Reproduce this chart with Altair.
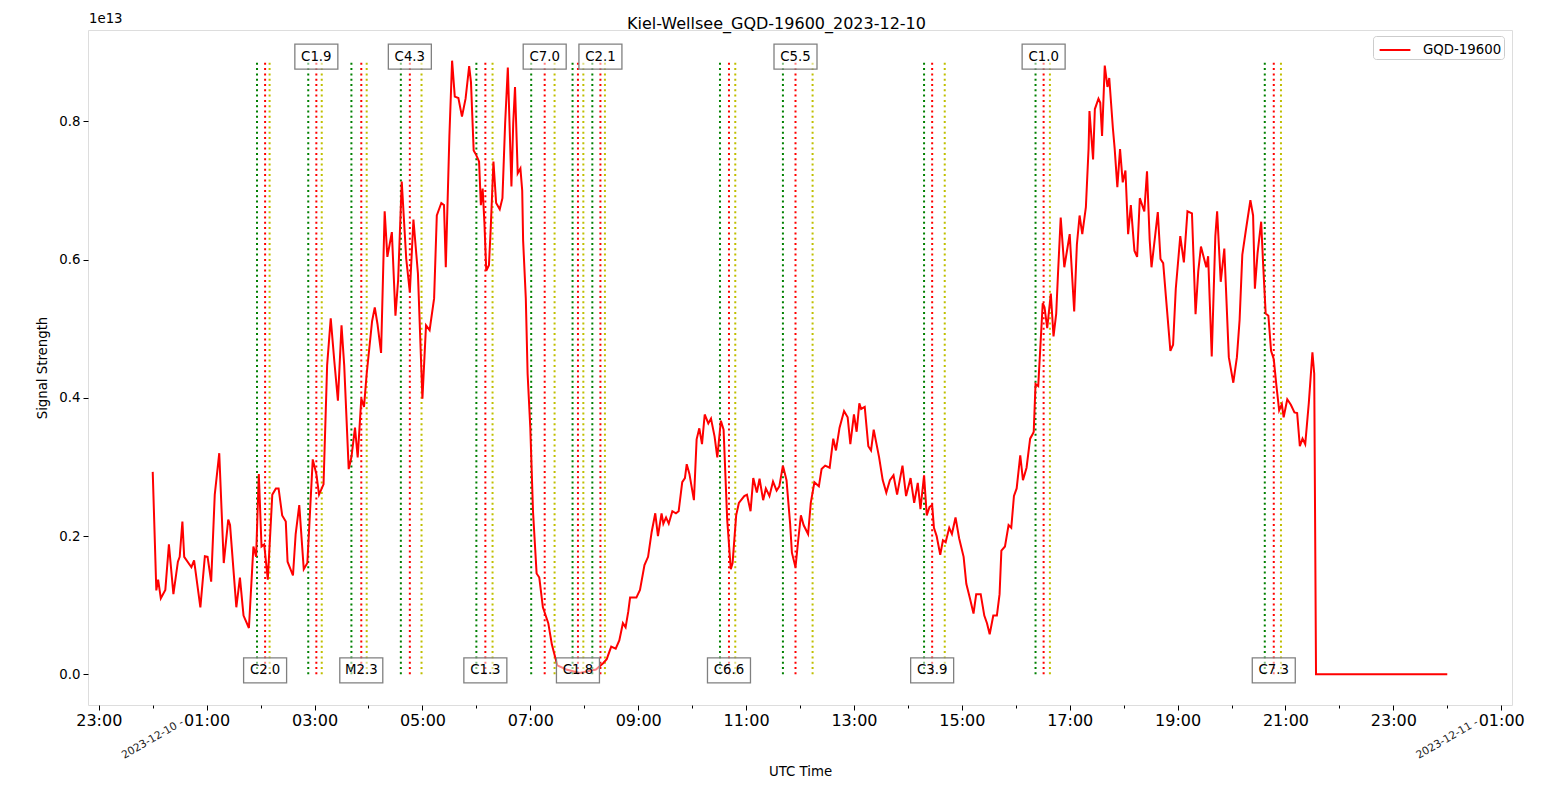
import altair as alt
import pandas as pd

# ---- signal: minutes after 2023-12-10 00:00 UTC, value in units of 1e13 ----
t_a = [0, 4, 6, 9, 14, 18, 23, 28, 30, 33, 35, 43, 46, 53, 58, 61, 65, 69, 74, 79,
       84, 86, 93, 97, 101, 107, 112, 115, 118, 121, 124, 128, 133, 137, 140, 144, 148, 150, 156, 159,
       163, 168, 172, 178, 182, 185, 190, 194, 198, 202, 206, 210, 213, 218, 221, 225, 228, 232, 235, 238,
       244, 247, 250, 254, 258, 261, 266, 270, 273, 277, 282, 286, 290, 295, 300, 304, 308, 313, 316, 321, 324]
v_a = [0.293, 0.1215, 0.137, 0.110, 0.122, 0.188, 0.116, 0.163, 0.170, 0.221,
       0.170, 0.155, 0.165, 0.097, 0.171, 0.170, 0.134, 0.260, 0.320, 0.161,
       0.224, 0.216, 0.097, 0.140, 0.085, 0.067, 0.185, 0.170, 0.290, 0.185,
       0.188, 0.137, 0.260, 0.269, 0.269, 0.230, 0.221, 0.163, 0.143, 0.203,
       0.245, 0.152, 0.161, 0.311, 0.290, 0.260, 0.275, 0.447, 0.515, 0.453,
       0.396, 0.505, 0.447, 0.297, 0.314, 0.357, 0.314, 0.399, 0.387, 0.435,
       0.511, 0.531, 0.507, 0.465, 0.670, 0.604, 0.640, 0.519, 0.571, 0.713,
       0.601, 0.553, 0.658, 0.580, 0.399, 0.505, 0.498, 0.544, 0.664, 0.682, 0.679]

t_b = [326, 330, 333, 336, 340, 344, 348, 352, 354, 357, 360, 363, 365, 367, 369, 371, 374, 376, 379, 382,
       386, 389, 392, 395, 399, 401, 403, 406, 409, 411, 412, 415, 417, 420, 423, 427, 430, 434, 440, 444,
       450, 460, 475, 493, 501, 505, 510, 515, 519, 523, 526, 529, 531, 538, 542, 547, 551, 555, 559, 562,
       566, 568, 571, 574, 578, 582, 585, 589, 592, 594, 597, 602, 605, 608, 611, 614, 618, 621, 625, 628,
       632, 635, 639, 643, 645, 649, 652]
v_b = [0.589, 0.779, 0.888, 0.836, 0.834, 0.807, 0.833, 0.880, 0.857, 0.758,
       0.751, 0.742, 0.679, 0.703, 0.652, 0.584, 0.592, 0.646, 0.742, 0.682,
       0.673, 0.689, 0.797, 0.878, 0.706, 0.797, 0.850, 0.725, 0.732, 0.700,
       0.628, 0.544, 0.435, 0.357, 0.236, 0.146, 0.140, 0.097, 0.074, 0.043,
       0.013, 0.007, 0.002, 0.007, 0.016, 0.022, 0.040, 0.037, 0.049, 0.074,
       0.068, 0.091, 0.111, 0.111, 0.122, 0.158, 0.170, 0.206, 0.233, 0.200,
       0.233, 0.218, 0.227, 0.218, 0.236, 0.233, 0.236, 0.278, 0.284, 0.304,
       0.290, 0.252, 0.340, 0.356, 0.333, 0.376, 0.363, 0.370, 0.344, 0.314,
       0.367, 0.354, 0.224, 0.152, 0.161, 0.230, 0.248]

t_c = [658, 661, 665, 668, 672, 675, 679, 682, 686, 690, 694, 697, 701, 705, 709, 711, 715, 718, 721, 724,
       729, 732, 736, 741, 744, 748, 753, 757, 760, 764, 769, 773, 776, 780, 783, 786, 788, 792, 796, 799,
       802, 808, 812, 816, 820, 824, 828, 834, 838, 843, 847, 851, 854, 858, 861, 864, 867, 869, 872, 876,
       879, 882, 886, 889, 893, 897, 902, 905, 909, 913, 916, 921, 925, 928, 931, 935, 939, 942, 944, 948,
       952, 955, 958, 961, 965, 968, 972, 976]
v_c = [0.258, 0.260, 0.236, 0.284, 0.263, 0.283, 0.252, 0.269, 0.258, 0.279,
       0.266, 0.272, 0.302, 0.281, 0.218, 0.176, 0.155, 0.194, 0.230, 0.216,
       0.203, 0.248, 0.278, 0.272, 0.297, 0.302, 0.299, 0.341, 0.324, 0.357,
       0.381, 0.372, 0.333, 0.376, 0.351, 0.392, 0.384, 0.387, 0.330, 0.324,
       0.354, 0.314, 0.281, 0.263, 0.281, 0.288, 0.260, 0.302, 0.258, 0.284,
       0.248, 0.277, 0.239, 0.288, 0.230, 0.242, 0.245, 0.212, 0.200, 0.173,
       0.194, 0.191, 0.212, 0.203, 0.227, 0.197, 0.170, 0.131, 0.110, 0.088,
       0.116, 0.116, 0.085, 0.074, 0.058, 0.085, 0.085, 0.116, 0.179, 0.185,
       0.216, 0.212, 0.258, 0.269, 0.317, 0.281, 0.299, 0.341]

t_d = [979, 980, 982, 985, 987, 990, 992, 995, 999, 1002, 1005, 1007, 1010, 1014, 1017, 1020, 1025, 1028, 1031, 1034,
       1038, 1041, 1042, 1046, 1048, 1052, 1054, 1056, 1059, 1062, 1064, 1068, 1070, 1073, 1076, 1079, 1082, 1085, 1088, 1092,
       1095, 1098, 1103, 1106, 1109, 1111, 1115, 1118, 1121, 1124, 1127, 1132, 1135, 1138, 1143, 1147, 1151, 1156, 1160, 1163,
       1166, 1169, 1172, 1174, 1178, 1182, 1184, 1188, 1192, 1197, 1202, 1206, 1209, 1212, 1216, 1221, 1224, 1226, 1229, 1233,
       1235, 1238, 1241, 1244, 1247, 1250, 1253, 1256, 1258, 1262, 1266, 1270, 1273, 1276, 1279, 1282, 1286, 1290, 1292, 1294,
       1440]
v_d = [0.348, 0.351, 0.420, 0.417, 0.465, 0.537, 0.531, 0.501, 0.551, 0.489,
       0.522, 0.580, 0.661, 0.589, 0.613, 0.637, 0.525, 0.622, 0.664, 0.637,
       0.676, 0.761, 0.815, 0.745, 0.818, 0.833, 0.827, 0.779, 0.881, 0.850,
       0.863, 0.791, 0.761, 0.705, 0.760, 0.712, 0.729, 0.637, 0.679, 0.613,
       0.604, 0.689, 0.670, 0.728, 0.628, 0.589, 0.634, 0.669, 0.601, 0.595,
       0.547, 0.468, 0.477, 0.558, 0.634, 0.596, 0.670, 0.667, 0.521, 0.583,
       0.619, 0.604, 0.589, 0.605, 0.460, 0.634, 0.670, 0.568, 0.616, 0.459,
       0.422, 0.459, 0.513, 0.607, 0.643, 0.686, 0.664, 0.558, 0.610, 0.655,
       0.598, 0.522, 0.519, 0.468, 0.456, 0.417, 0.382, 0.391, 0.372, 0.398,
       0.390, 0.379, 0.378, 0.330, 0.341, 0.333, 0.393, 0.466, 0.435, 0.000,
       0.000]

# ---- flares (minutes after midnight UTC) ----
flare_class = ["C2.0", "C1.9", "M2.3", "C4.3", "C1.3", "C7.0", "C1.8",
               "C2.1", "C6.6", "C5.5", "C3.9", "C1.0", "C7.3"]
flare_start = [116, 173, 221, 276, 360, 421, 467, 489, 631, 701, 858, 982, 1237]
flare_peak = [125, 182, 232, 286, 370, 436, 473, 498, 641, 715, 867, 991, 1247]
flare_end = [130, 188, 238, 299, 378, 447, 479, 503, 648, 734, 881, 998, 1255]

# ---- axis text ----
x_tick_hours = list(range(-1, 26))          # hourly ticks, labelled on odd hours
y_tick_values = [0.0, 0.2, 0.4, 0.6, 0.8]
date_label_text = ["2023-12-10 -", "2023-12-11 -"]
date_label_hours = [0, 24]
series_name = "GQD-19600"
title_text = "Kiel-Wellsee_GQD-19600_2023-12-10"

# ---------------------------------------------------------------
FONT = "DejaVu Sans"
MS_MIN = 60000
base = pd.Timestamp("2023-12-10T00:00:00Z").value // 10**6

minutes = t_a + t_b + t_c + t_d
values = v_a + v_b + v_c + v_d
assert len(minutes) == len(values)

sig = pd.DataFrame({"t": [base + m * MS_MIN for m in minutes], "v": values,
                    "series": [series_name] * len(values)})

vmax = max(values)
vmin = min(values)
ypad = 0.05 * (vmax - vmin)
span = 1440
xpad = 0.05 * span
x_dom = [base - xpad * MS_MIN, base + (span + xpad) * MS_MIN]
y_dom = [vmin - ypad, vmax + ypad]

W, H = 1424, 675

xscale = alt.Scale(type="utc", domain=x_dom, nice=False)
yscale = alt.Scale(domain=y_dom, nice=False, zero=False)

x_axis = alt.Axis(
    values=[base + h * 3600000 for h in x_tick_hours],
    labelExpr="utchours(datum.value) % 2 == 1 ? utcFormat(datum.value, '%H:%M') : ''",
    tickSize={"condition": {"test": "utchours(datum.value) % 2 == 1", "value": 5}, "value": 3},
    title="UTC Time", titleFont=FONT, titleFontSize=13.3, titleFontWeight="normal",
    titleColor="black", titlePadding=36,
    labelFont=FONT, labelFontSize=16, labelPadding=2, labelColor="black",
    labelOverlap=False, labelFlush=False,
    tickColor="black", tickWidth=1, domain=False, grid=False,
)
y_axis = alt.Axis(
    values=y_tick_values, format=".1f",
    title="Signal Strength", titleFont=FONT, titleFontSize=13.3, titleFontWeight="normal",
    titleColor="black", titlePadding=9,
    labelFont=FONT, labelFontSize=13.3, labelPadding=3, labelColor="black",
    tickColor="black", tickSize=5, tickWidth=1, domain=False, grid=False,
)

X = alt.X("t:T", scale=xscale, axis=x_axis)
Y = alt.Y("v:Q", scale=yscale, axis=y_axis)

# flare rules
rows = []
for c, s, p, e in zip(flare_class, flare_start, flare_peak, flare_end):
    rows.append({"t": base + s * MS_MIN, "kind": "start", "v": 0.0, "v2": vmax})
    rows.append({"t": base + p * MS_MIN, "kind": "peak", "v": 0.0, "v2": vmax})
    rows.append({"t": base + e * MS_MIN, "kind": "end", "v": 0.0, "v2": vmax})
fl = pd.DataFrame(rows)

def rule_layer(kind, color):
    return (alt.Chart(fl).transform_filter(alt.datum.kind == kind)
            .mark_rule(color=color, strokeWidth=2, strokeDash=[2, 3.3])
            .encode(x=X, y=Y, y2="v2:Q"))

rules = [rule_layer("start", "#008000"), rule_layer("peak", "#ff0000"), rule_layer("end", "#bfbf00")]

line = alt.Chart(sig).mark_line(strokeWidth=2).encode(
    x=X, y=Y,
    color=alt.Color("series:N", scale=alt.Scale(range=["#ff0000"]),
                    legend=alt.Legend(title=None, orient="none", legendX=1285, legendY=6,
                                      fillColor="white", strokeColor="#cccccc",
                                      cornerRadius=3, padding=2, symbolOffset=8,
                                      symbolType="M-1.4,0L1.4,0", symbolSize=484,
                                      symbolStrokeWidth=2, labelOffset=16,
                                      labelFont=FONT, labelFontSize=13.3,
                                      labelColor="black")),
)

# flare labels alternate bottom / top
lab = pd.DataFrame({
    "t": [base + p * MS_MIN for p in flare_peak],
    "v": [vmax if i % 2 == 1 else 0.0 for i in range(len(flare_class))],
    "label": flare_class,
})
BOX = "M-1,-0.58L1,-0.58L1,0.58L-1,0.58Z"
boxes = alt.Chart(lab).mark_point(
    shape=BOX, size=43 * 43, filled=True, fill="white", fillOpacity=0.5,
    stroke="#808080", strokeWidth=1.3, opacity=1, yOffset=-4,
).encode(x=X, y=Y)
texts = alt.Chart(lab).mark_text(
    font=FONT, fontSize=13.3, color="black", align="center", baseline="middle", dy=-4,
).encode(x=X, y=Y, text="label:N")

# offset text of the y axis
offset_txt = alt.Chart(pd.DataFrame({"txt": ["1e13"]})).mark_text(
    font=FONT, fontSize=13.3, color="black", align="left", baseline="middle",
).encode(text="txt:N", x=alt.value(1), y=alt.value(-11))

# rotated date labels
dates = pd.DataFrame({"t": [base + h * 3600000 for h in date_label_hours], "label": date_label_text})
date_txt = alt.Chart(dates).mark_text(
    font=FONT, fontSize=10.7, color="#222222", align="center", baseline="middle", angle=330,
).encode(x=X, y=alt.value(H + 34), text="label:N")

chart = alt.layer(*rules, line, boxes, texts, offset_txt, date_txt).properties(
    width=W, height=H,
    title=alt.TitleParams(text=title_text, font=FONT, fontSize=16, fontWeight="normal",
                          color="black", dx=-23.5, offset=-33, baseline="alphabetic"),
    padding={"left": 80, "top": 22, "right": 33, "bottom": 75},
    autosize=alt.AutoSizeParams(type="none"),
).configure_view(stroke="black", strokeWidth=1).configure(background="white")

chart.save("out.html", embed_options={"renderer": "svg", "actions": False})
